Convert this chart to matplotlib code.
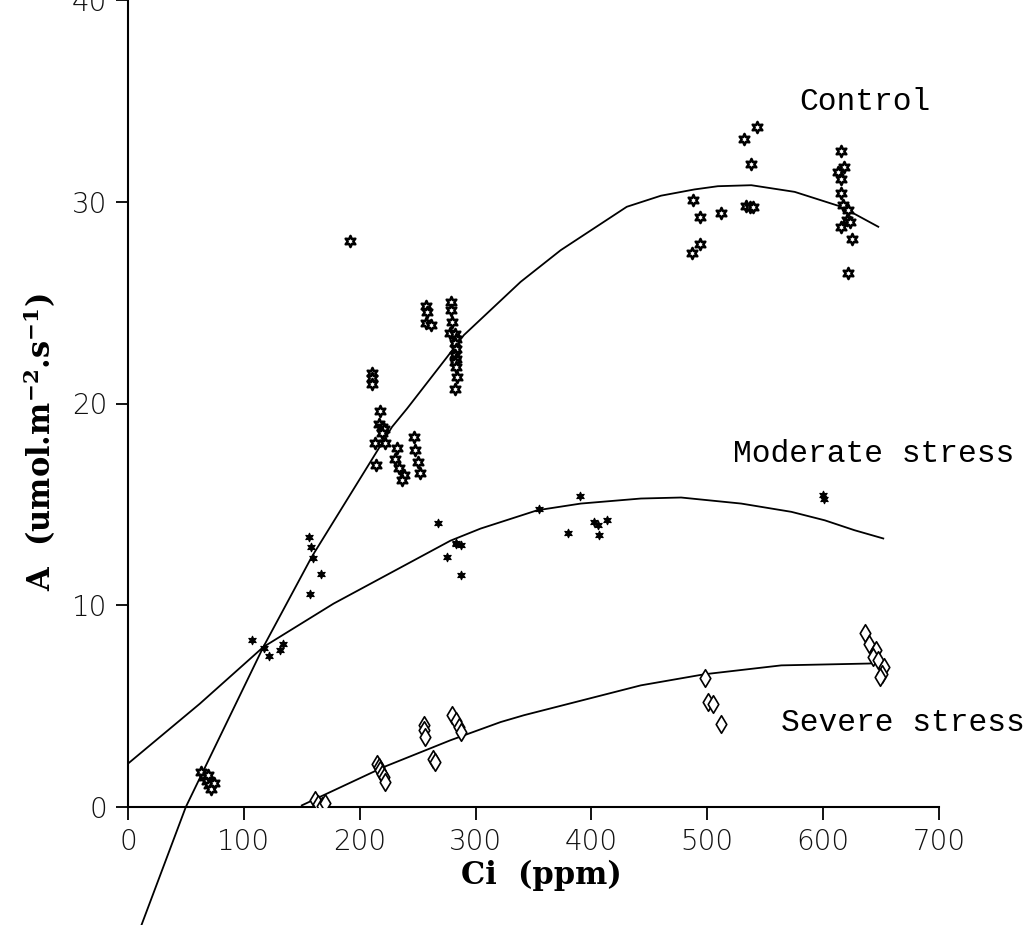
import matplotlib
matplotlib.use("Agg")
import matplotlib.pyplot as plt

plt.rcParams['mathtext.default'] = 'regular'

# ---------------- data ----------------
control_ci = [63, 66, 68, 70, 72, 69, 74,
              191.2,
              210.6, 210.6, 210.6, 217.8,
              216.9, 219.3, 221.3, 219.5, 213.4, 222.1, 214.3,
              232.2, 230.8, 233.6, 238.0, 236.6,
              247.2, 248.1, 250.1, 251.8,
              257.6, 258.2, 257.6, 261.7,
              278.4, 278.4, 279.8, 277.8,
              282.0, 283.0, 282.0, 283.0, 282.5, 283.0, 282.0, 283.5, 284.0, 282.4,
              486.6, 488.0, 493.8, 493.8, 512.0, 532.1, 542.9, 537.9, 533.6, 536.5, 539.6,
              615.0, 617.8, 613.0, 615.8, 615.0, 617.3, 621.6, 620.2, 623.0, 615.8, 625.0, 621.6]
control_a = [1.75, 1.5, 1.3, 1.1, 0.9, 1.6, 1.2,
             28.05,
             21.49, 21.24, 20.99, 19.64,
             18.97, 18.84, 18.72, 18.52, 18.02, 18.05, 16.94,
             17.77, 17.27, 16.78, 16.45, 16.2,
             18.34, 17.68, 17.1, 16.56,
             24.82, 24.54, 24.0, 23.88,
             25.04, 24.63, 24.05, 23.47,
             23.45, 23.2, 23.0, 22.7, 22.4, 22.2, 22.05, 21.8, 21.3, 20.74,
             27.47, 30.11, 29.22, 27.93, 29.45, 33.09, 33.71, 31.86, 29.78, 29.75, 29.73,
             32.52, 31.7, 31.48, 31.15, 30.41, 29.83, 29.58, 29.09, 29.0, 28.76, 28.13, 26.47]

moderate_ci = [106.7, 117.0, 122.0, 131.2, 133.5,
               155.8, 157.8, 160.0, 166.4, 157.2,
               267.4, 275.5, 282.7, 287.0, 287.0, 283.1,
               354.8, 379.9, 390.0, 402.4, 405.3, 406.7, 413.3,
               600.0, 601.0]
moderate_a = [8.30, 7.9, 7.47, 7.8, 8.07,
              13.36, 12.89, 12.36, 11.57, 10.55,
              14.08, 12.4, 13.09, 12.98, 11.49, 13.06,
              14.79, 13.58, 15.4, 14.13, 13.97, 13.47, 14.22,
              15.45, 15.25]

severe_ci = [161.5, 164.4, 167.3, 170.2,
             214.9, 216.3, 217.8, 219.2, 220.7, 222.1,
             255.3, 255.3, 256.7, 263.2, 264.6,
             279.8, 282.7, 285.6, 287.0,
             497.6, 500.5, 504.8, 512.0,
             635.9, 639.7, 646.0, 642.8, 647.6, 652.3, 650.8, 649.2]
severe_a = [0.33, 0.17, 0.03, 0.2,
            2.15, 1.98, 1.82, 1.65, 1.49, 1.24,
            4.05, 3.8, 3.47, 2.4, 2.23,
            4.55, 4.26, 3.97, 3.72,
            6.37, 5.2, 5.13, 4.13,
            8.63, 8.1, 7.77, 7.44, 7.27, 6.94, 6.61, 6.45]

# fitted curves
control_fit_ci = [11.5, 49.9, 116.8, 158.6, 227.9, 240.9, 275.5, 289.9, 338.9, 373.5,
                  430.5, 460, 488.9, 509.1, 538, 575.4, 615.8, 647.6]
control_fit_a = [-5.87, 0, 7.93, 12.4, 18.84, 19.75, 22.31, 23.39, 26.03, 27.6,
                 29.75, 30.3, 30.61, 30.77, 30.82, 30.49, 29.75, 28.76]
moderate_fit_ci = [0, 62, 116.8, 177.4, 278.3, 304.3, 353.4, 390.8, 442.7, 477.4,
                   529.3, 572.6, 601.4, 627, 651.9]
moderate_fit_a = [2.15, 5.12, 7.93, 10.08, 13.2, 13.8, 14.71, 15.04, 15.29, 15.34,
                  15.04, 14.63, 14.21, 13.72, 13.31]
severe_fit_ci = [150, 220.7, 278.4, 321.6, 341.8, 442.7, 497.6, 563.9, 638.9, 650.8]
severe_fit_a = [0.08, 1.98, 3.31, 4.21, 4.55, 6.03, 6.58, 7.02, 7.11, 7.14]

x_ticks = [0, 100, 200, 300, 400, 500, 600, 700]
y_ticks = [0, 10, 20, 30, 40]

# ---------------- figure ----------------
fig = plt.figure(figsize=(10.25, 9.25), dpi=100)
ax = fig.add_axes([128 / 1025, 118 / 925, 811 / 1025, 807 / 925])

ax.plot(control_fit_ci, control_fit_a, color='black', lw=1.3, clip_on=False)
ax.plot(moderate_fit_ci, moderate_fit_a, color='black', lw=1.3)
ax.plot(severe_fit_ci, severe_fit_a, color='black', lw=1.3)

ax.scatter(control_ci, control_a, marker=(6, 1, 0), s=65, facecolor='white',
           edgecolor='black', linewidths=1.8, zorder=3)
ax.scatter(moderate_ci, moderate_a, marker=(6, 1, 0), s=38, facecolor='black',
           edgecolor='black', linewidths=0.8, zorder=3)
ax.scatter(severe_ci, severe_a, marker='d', s=80, facecolor='white',
           edgecolor='black', linewidths=1.2, zorder=3)

ax.set_xlim(0, 700)
ax.set_ylim(0, 40)
ax.set_xticks(x_ticks)
ax.set_yticks(y_ticks)
for s in ['top', 'right']:
    ax.spines[s].set_visible(False)
for s in ['left', 'bottom']:
    ax.spines[s].set_linewidth(1.5)
ax.tick_params(direction='out', length=9, width=1.3, labelsize=20,
               labelcolor='#111111', pad=6)
for lab in ax.get_xticklabels() + ax.get_yticklabels():
    lab.set_fontweight('light')

ax.set_xlabel('Ci  (ppm)', fontsize=22, fontweight='bold', family='DejaVu Serif')
ax.xaxis.set_label_coords(0.51, -0.066)
ax.set_ylabel(r'A  (umol.m$^{-2}$.s$^{-1}$)', fontsize=22, fontweight='bold',
              family='DejaVu Serif')
ax.yaxis.set_label_coords(-0.086, 0.452)

lab_kw = dict(fontsize=22.5, family='Liberation Mono', va='baseline', ha='left',
              color='black', clip_on=False)
ax.text(579.5, 34.54, 'Control', **lab_kw)
ax.text(522, 17.1, 'Moderate stress', **lab_kw)
ax.text(563.6, 3.75, 'Severe stress', **lab_kw)

fig.savefig('out.png', dpi=100)
